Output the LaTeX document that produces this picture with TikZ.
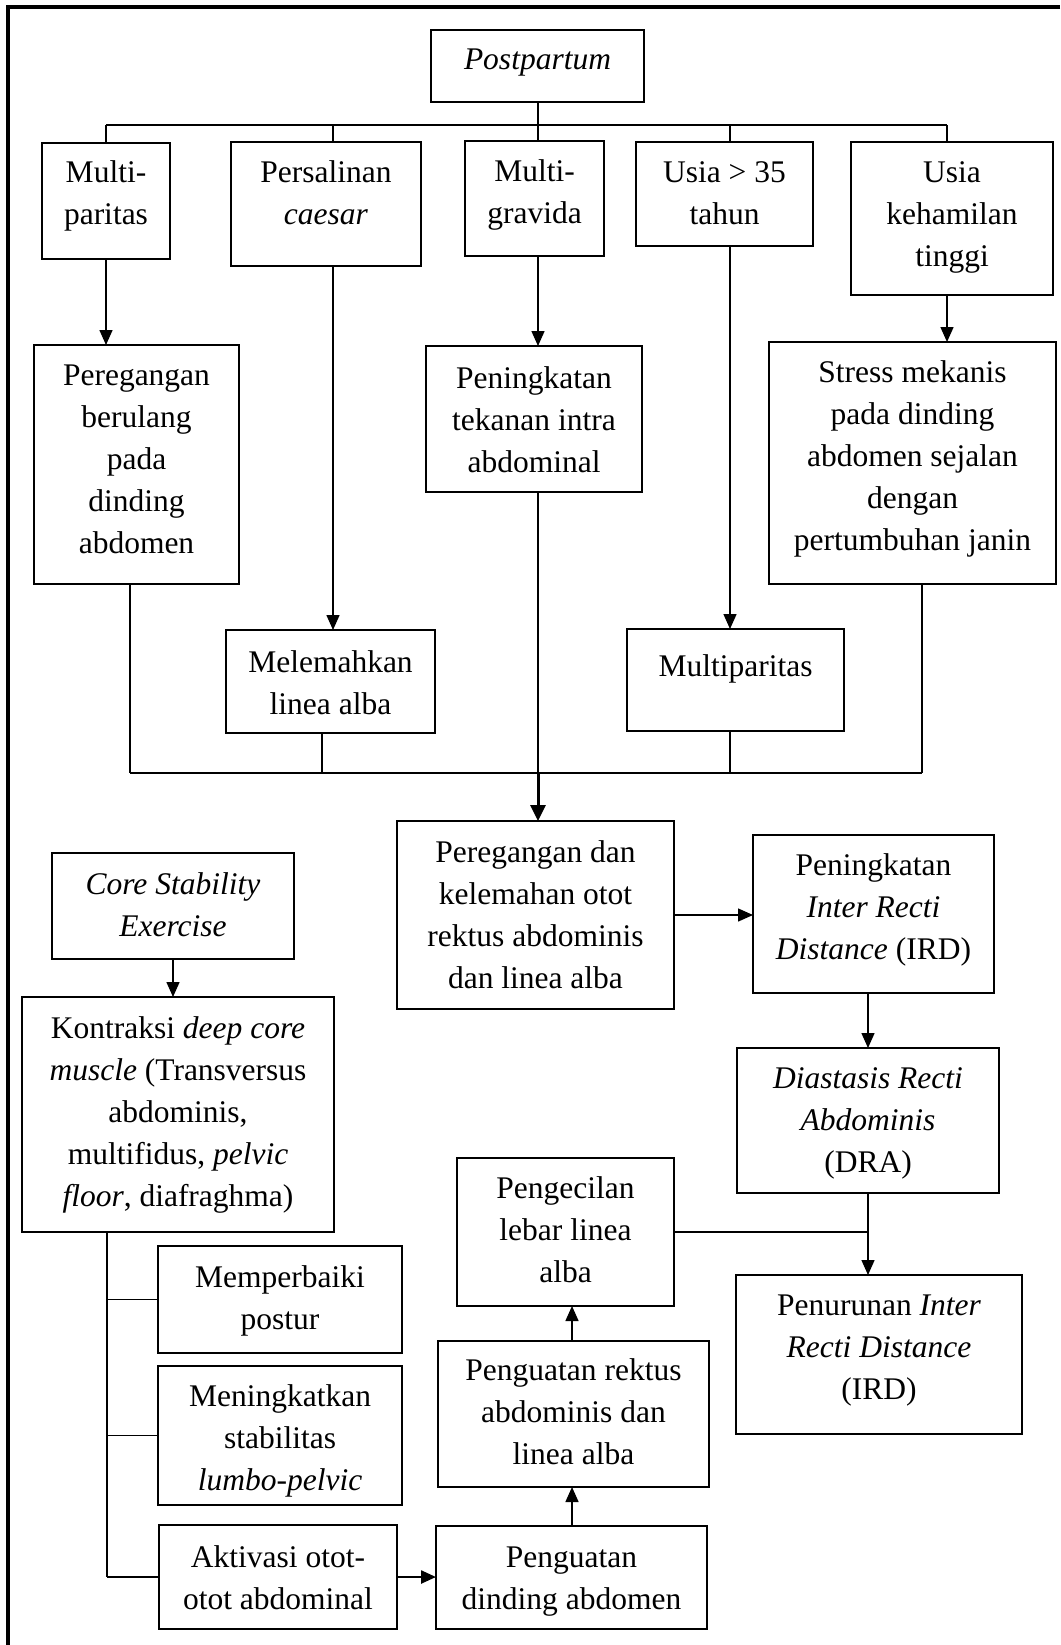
\documentclass[tikz,border=0pt]{standalone}
\usepackage{fontspec}
\setmainfont{Liberation Serif}
\usetikzlibrary{arrows.meta}
\tikzset{
  box/.style={draw, line width=2.5pt, inner sep=0pt, outer sep=0pt, font=\fontsize{31.5}{42}\selectfont},
  conn/.style={line width=1.5pt},
  arr/.style={conn, -{Triangle[length=15pt,width=13pt]}},
  thickarr/.style={line width=3pt, -{Triangle[length=16pt,width=15pt]}},
  frame/.style={line width=4pt}
}
\newcommand\bx[7]{%
  \node[box] (#1) at ({(#2+#4)/2},{(#3+#5)/2})
    {\parbox[c][\dimexpr#5pt-#3pt\relax][t]{\dimexpr#4pt-#2pt\relax}{\centering\rule{0pt}{#6pt}#7\par}};}
\begin{document}
\begin{tikzpicture}[x=1pt,y=-1pt]
\useasboundingbox (0,0) rectangle (1060,1645);
\draw[frame] (1060,7) -- (8,7) -- (8,1645);

\bx{pp}{431}{30}{644}{102}{40}{\textit{Postpartum}}
\bx{mp}{42}{143}{170}{259}{40}{Multi-\\paritas}
\bx{pc}{231}{142}{421}{266}{41}{Persalinan\\\textit{caesar}}
\bx{mg}{465}{141}{604}{256}{41}{Multi-\\gravida}
\bx{us}{636}{142}{813}{246}{41}{Usia > 35\\tahun}
\bx{uk}{851}{142}{1053}{295}{41}{Usia\\kehamilan\\tinggi}
\bx{pb}{34}{345}{239}{584}{40}{Peregangan\\berulang\\pada\\dinding\\abdomen}
\bx{pt}{426}{346}{642}{492}{42}{Peningkatan\\tekanan intra\\abdominal}
\bx{sm}{769}{342}{1056}{584}{40}{Stress mekanis\\pada dinding\\abdomen sejalan\\dengan\\pertumbuhan janin}
\bx{ml}{226}{630}{435}{733}{42}{Melemahkan\\linea alba}
\bx{mu}{627}{629}{844}{731}{47}{Multiparitas}
\bx{pd}{397}{821}{674}{1009}{41}{Peregangan dan\\kelemahan otot\\rektus abdominis\\dan linea alba}
\bx{ird}{753}{835}{994}{993}{40}{Peningkatan\\\textit{Inter Recti}\\\textit{Distance} (IRD)}
\bx{cs}{52}{853}{294}{959}{41}{\textit{Core Stability}\\\textit{Exercise}}
\bx{ko}{22}{997}{334}{1232}{41}{Kontraksi \textit{deep core}\\\textit{muscle} (Transversus\\abdominis,\\multifidus, \textit{pelvic}\\\textit{floor}, diafraghma)}
\bx{dra}{737}{1048}{999}{1193}{40}{\textit{Diastasis Recti}\\\textit{Abdominis}\\(DRA)}
\bx{pl}{457}{1158}{674}{1306}{40}{Pengecilan\\lebar linea\\alba}
\bx{pn}{736}{1275}{1022}{1434}{40}{Penurunan \textit{Inter}\\\textit{Recti Distance}\\(IRD)}
\bx{mb}{158}{1246}{402}{1353}{41}{Memperbaiki\\postur}
\bx{mk}{158}{1366}{402}{1505}{40}{Meningkatkan\\stabilitas\\\textit{lumbo-pelvic}}
\bx{ak}{159}{1525}{397}{1629}{42}{Aktivasi otot-\\otot abdominal}
\bx{pr}{438}{1341}{709}{1487}{39}{Penguatan rektus\\abdominis dan\\linea alba}
\bx{pw}{436}{1526}{707}{1629}{41}{Penguatan\\dinding abdomen}

% top bus
\coordinate (b1L) at (106,125);
\coordinate (b1R) at (947,125);
\coordinate (xpc) at (333,0);
\coordinate (xmid) at (538,0);
\coordinate (xus) at (730,0);
\draw[conn] (b1L) -- (b1R);
\draw[conn] (pp.south -| xmid) -- (xmid |- b1L);
\draw[conn] (mp.north) -- (mp.north |- b1L);
\draw[conn] (pc.north -| xpc) -- (xpc |- b1L);
\draw[conn] (mg.north -| xmid) -- (xmid |- b1L);
\draw[conn] (us.north -| xus) -- (xus |- b1L);
\draw[conn] (uk.north -| b1R) -- (b1R);

% second level arrows
\draw[arr] (mp.south) -- (mp.south |- pb.north);
\draw[arr] (pc.south -| xpc) -- (ml.north -| xpc);
\draw[arr] (mg.south -| xmid) -- (pt.north -| xmid);
\draw[arr] (us.south -| xus) -- (mu.north -| xus);
\draw[arr] (uk.south -| b1R) -- (sm.north -| b1R);

% bottom bus
\coordinate (b2L) at (130,773);
\coordinate (b2R) at (922,773);
\coordinate (xml) at (322,0);
\draw[conn] (b2L) -- (b2R);
\draw[conn] (pb.south -| b2L) -- (b2L);
\draw[conn] (ml.south -| xml) -- (xml |- b2L);
\draw[conn] (mu.south -| xus) -- (xus |- b2L);
\draw[conn] (sm.south -| b2R) -- (b2R);
\draw[conn] (pt.south -| xmid) -- (xmid |- b2L);
\draw[thickarr] (xmid |- b2L) -- (pd.north -| xmid);

% right column
\draw[arr] (pd.east) -- (pd.east -| ird.west);
\draw[arr] (dra.north |- ird.south) -- (dra.north);
\draw[arr] (dra.south) -- (dra.south |- pn.north);
\draw[conn] (pl.east) -- (pl.east -| dra.south);

% left column
\coordinate (kx) at (107,0);
\coordinate (xr) at (572,0);
\draw[arr] (cs.south) -- (cs.south |- ko.north);
\draw[conn] (ko.south -| kx) -- (kx |- ak.west);
\draw[conn] (mb.west) -- (mb.west -| kx);
\draw[conn] (mk.west) -- (mk.west -| kx);
\draw[conn] (ak.west) -- (ak.west -| kx);
\draw[arr, line width=2.5pt] (ak.east) -- (ak.east -| pw.west);
\draw[arr] (pw.north -| xr) -- (pr.south -| xr);
\draw[arr] (pr.north -| xr) -- (pl.south -| xr);
\end{tikzpicture}
\end{document}
